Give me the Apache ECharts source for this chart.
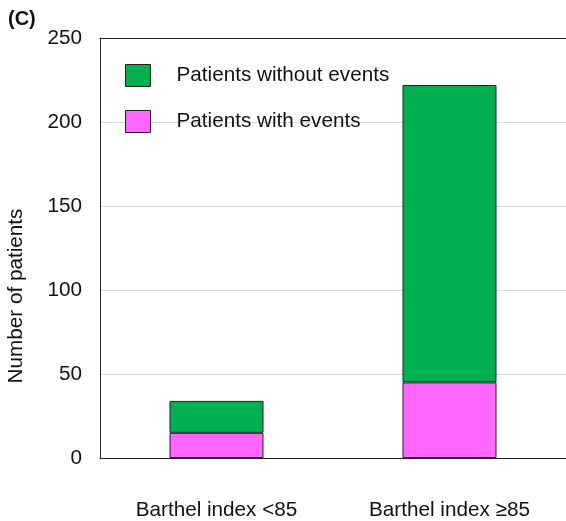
<!DOCTYPE html>
<html>
<head>
<meta charset="utf-8">
<script src="https://cdn.jsdelivr.net/npm/echarts@6/dist/echarts.min.js"></script>
<style>
  html, body { margin: 0; padding: 0; background: #fff; }
  #chart { width: 566px; height: 521px; }
</style>
</head>
<body>
<div id="chart"></div>
<script>
// Patient counts by Barthel index group
const categories = ['Barthel index <85', 'Barthel index \u226585'];
const withEvents = [15, 45];
const withoutEvents = [19, 177];
const yTicks = [0, 50, 100, 150, 200, 250];

const font = '"Liberation Sans", Arial, Helvetica, sans-serif';
const fs = 20.7;
const chart = echarts.init(document.getElementById('chart'), null, { renderer: 'canvas' });

chart.setOption({
  animation: false,
  backgroundColor: '#ffffff',
  title: {
    text: '(C)',
    left: 8, top: 9, padding: 0,
    textStyle: { fontFamily: font, fontSize: 20, fontWeight: 'bold', color: '#111' }
  },
  grid: { left: 100, top: 38, width: 469, bottom: 63 },
  legend: {
    orient: 'vertical',
    left: 125, top: 64, padding: 0,
    itemWidth: 25, itemHeight: 22, itemGap: 23,
    icon: 'rect',
    data: ['Patients without events', 'Patients with events'],
    itemStyle: { borderColor: '#222', borderWidth: 1 },
    textStyle: { fontFamily: font, fontSize: fs, color: '#111', padding: [0, 0, 0, 21] }
  },
  xAxis: [
    {
      type: 'category',
      data: categories,
      axisLine: { lineStyle: { color: '#222', width: 1 } },
      axisTick: { show: false },
      axisLabel: { fontFamily: font, fontSize: fs, color: '#111', margin: 42 }
    },
    {
      // top frame line
      type: 'category',
      position: 'top',
      data: categories,
      axisLine: { lineStyle: { color: '#222', width: 1 } },
      axisTick: { show: false },
      axisLabel: { show: false }
    }
  ],
  yAxis: {
    type: 'value',
    min: yTicks[0], max: yTicks[yTicks.length - 1], interval: 50,
    axisLine: { show: true, lineStyle: { color: '#222', width: 1 } },
    axisTick: { show: false },
    axisLabel: { fontFamily: font, fontSize: fs, color: '#111', margin: 18 },
    splitLine: { lineStyle: { color: '#dcdcdc', width: 1 } }
  },
  graphic: [{
    type: 'text',
    x: 16, y: 296,
    rotation: Math.PI / 2,
    style: {
      text: 'Number of patients',
      font: fs + 'px ' + font,
      fill: '#111',
      align: 'center',
      verticalAlign: 'middle'
    }
  }],
  series: [
    {
      name: 'Patients with events',
      type: 'bar',
      stack: 'total',
      barWidth: 94,
      data: withEvents,
      itemStyle: { color: '#ff66ff', borderColor: '#222', borderWidth: 1 }
    },
    {
      name: 'Patients without events',
      type: 'bar',
      stack: 'total',
      barWidth: 94,
      data: withoutEvents,
      itemStyle: { color: '#00b050', borderColor: '#222', borderWidth: 1 }
    }
  ]
});
</script>
</body>
</html>
